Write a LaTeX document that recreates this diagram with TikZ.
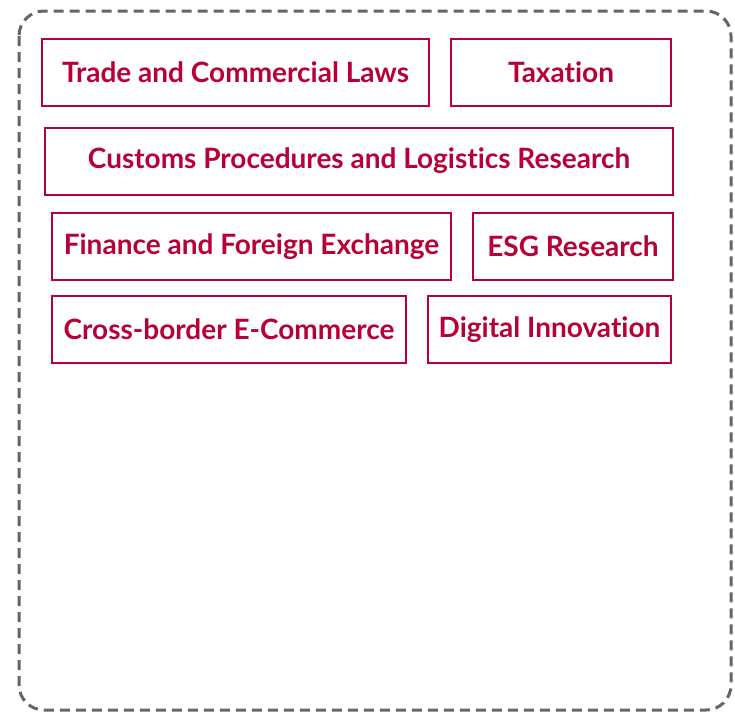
\documentclass[tikz,border=0pt]{standalone}
\usepackage{fontspec}
\setmainfont{Lato}[Ligatures=NoCommon]
\usepackage{tikz}
\usetikzlibrary{positioning}
\definecolor{topicred}{RGB}{184,0,56}
\definecolor{framegray}{RGB}{102,102,102}
\begin{document}
\begin{tikzpicture}[x=1pt, y=-1pt, topic node/.style={draw=topicred, line width=2pt, text=topicred, font=\fontsize{28}{32}\selectfont\bfseries, inner sep=0pt, minimum height=67pt}]
\useasboundingbox (0,0) rectangle (735,712);
\draw [framegray, line width=3pt, dash pattern=on 10pt off 6pt, rounded corners=25pt] (19,11) rectangle (731,710);
\node[topic node, minimum width=387pt] (trade) at (235.5,72) {Trade and Commercial Laws};
\node[topic node, minimum width=220pt] (tax) at (561,72) {Taxation};
\node[topic node, minimum width=628pt] (customs) at (359,161) {Customs Procedures and Logistics Research};
\node[topic node, minimum width=399pt] (finance) at (251.5,246.5) {Finance and Foreign Exchange};
\node[topic node, minimum width=200pt] (esg) at (573,246.5) {ESG Research};
\node[topic node, minimum width=354pt] (ecom) at (229,329.5) {Cross-border E-Commerce};
\node[topic node, minimum width=243pt] (digital) at (549.5,329.5) {Digital Innovation};
\end{tikzpicture}
\end{document}
